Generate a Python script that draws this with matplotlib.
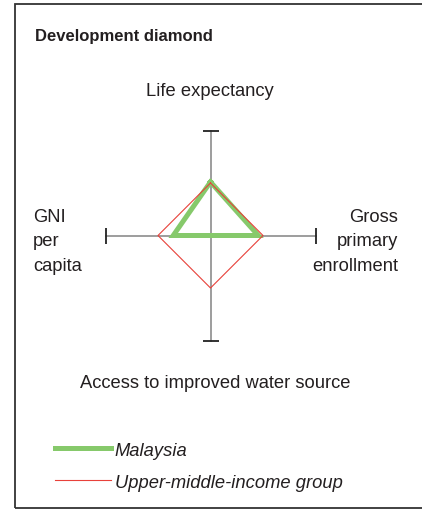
import numpy as np
import matplotlib.pyplot as plt
from matplotlib.patches import Rectangle
from matplotlib.lines import Line2D

plt.rcParams['font.family'] = ['Liberation Sans', 'DejaVu Sans']

# order: top, right, bottom, left
axes_names = ['Life expectancy', 'Gross\nprimary\nenrollment',
              'Access to improved water source', 'GNI\nper\ncapita']
malaysia = [1.02, 0.91, 0.0, 0.71]
group = [1.0, 1.0, 1.0, 1.0]
series_names = ['Malaysia', 'Upper-middle-income group']

txt = '#231f20'
green = '#86c96b'
red = '#e8413a'
fs = 13.2

W, H = 422, 510
fig = plt.figure(figsize=(W / 100, H / 100), dpi=100)

# outer frame (open on the right side)
fig.patches.append(Rectangle((15 / W, 1.5 / H), 1.1, 504 / H, transform=fig.transFigure,
                             fill=False, edgecolor='#333333', lw=1.3))

fig.text(35 / W, 1 - 37 / H, 'Development diamond', fontsize=12, fontweight='bold',
         color=txt, va='center', ha='left')

# diamond axes: center at (210.5, 236.5) px, 52.5 px per unit
ppu = 52.5
lim = 2.2
cx, cy = 210.5, 236.5
aw = 2 * lim * ppu
ax = fig.add_axes([(cx - aw / 2) / W, (H - cy - aw / 2) / H, aw / W, aw / H])
ax.set_xlim(-lim, lim)
ax.set_ylim(-lim, lim)
ax.axis('off')

def to_xy(vals):
    x = [0, vals[1], 0, -vals[3]]
    y = [vals[0], 0, -vals[2], 0]
    return np.array(x + x[:1]), np.array(y + y[:1])

# axes with end caps
ax.plot([-2, 2], [0, 0], color='#8c8c8c', lw=1.2, zorder=1)
ax.plot([0, 0], [-2, 2], color='#8c8c8c', lw=1.2, zorder=1)
ax.plot([-2, 2], [0, 0], ls='none', marker='|', ms=12, mew=1.3, color='#222222', zorder=2)
ax.plot([0, 0], [-2, 2], ls='none', marker='_', ms=12, mew=1.3, color='#222222', zorder=2)

mx, my = to_xy(malaysia)
gx, gy = to_xy(group)
ax.plot(mx, my, color=green, lw=3.6, solid_joinstyle='miter', zorder=3)
ax.plot(gx, gy, color=red, lw=0.8, zorder=4)

# axis labels
fig.text(210 / W, 1 - 92 / H, axes_names[0], fontsize=fs, color=txt, ha='center', va='center')
fig.text(398 / W, 1 - 242 / H, axes_names[1], fontsize=fs, color=txt, ha='right', va='center',
         linespacing=1.6, multialignment='right')
fig.text(215 / W, 1 - 384 / H, axes_names[2], fontsize=fs, color=txt, ha='center', va='center')
fig.text(33 / W, 1 - 242 / H, axes_names[3], fontsize=fs, color=txt, ha='left', va='center',
         linespacing=1.6, multialignment='left')

# legend
handles = [Line2D([], [], color=green, lw=3.6), Line2D([], [], color=red, lw=0.8)]
leg = fig.legend(handles, series_names, loc='upper left', bbox_to_anchor=(38.5 / W, 1 - 426 / H),
                 frameon=False, handlelength=3.05, handletextpad=0.2, labelspacing=0.82,
                 prop={'size': fs, 'style': 'italic'})
for t in leg.get_texts():
    t.set_color(txt)

fig.savefig('out.png', dpi=100)
